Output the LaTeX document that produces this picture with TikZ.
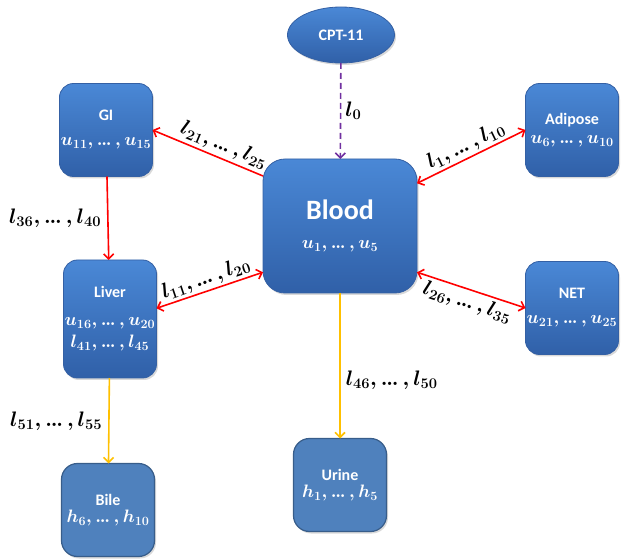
\RequirePackage{fix-cm}
\documentclass[tikz,border=0pt]{standalone}
\usepackage{amsmath}
\usepackage{fontspec}
\setsansfont{Carlito}
\usetikzlibrary{arrows.meta,shapes.geometric,shadows}

\definecolor{boxtop}{RGB}{74,136,214}
\definecolor{boxbot}{RGB}{48,96,168}
\definecolor{boxedge}{RGB}{52,96,164}
\definecolor{flatfill}{RGB}{79,129,189}
\definecolor{flatedge}{RGB}{56,93,138}
\definecolor{flowred}{RGB}{255,0,0}
\definecolor{flowgold}{RGB}{255,192,0}
\definecolor{flowpurple}{RGB}{112,48,160}

% tight ellipsis and bold sequence, e.g. u_1,...,u_5
\newcommand{\tdots}{\mathinner{.\kern-1.2pt.\kern-1.2pt.}}
\newcommand{\seqv}[3]{{\boldmath$#1_{#2},\tdots,#1_{#3}$}}
\newcommand{\boxmath}[3]{{\fontsize{18}{20}\selectfont\seqv{#1}{#2}{#3}}}

\tikzset{
  organ/.style={draw=boxedge, line width=0.8pt, rounded corners=14pt,
    top color=boxtop, bottom color=boxbot, text=white, align=center,
    inner sep=0pt, outer sep=0pt, minimum width=93pt, minimum height=93pt,
    font=\sffamily\bfseries\fontsize{16}{19}\selectfont,
    drop shadow={opacity=0.3, shadow xshift=1.5pt, shadow yshift=-2pt}},
  outlet/.style={organ, fill=flatfill, top color=flatfill, bottom color=flatfill,
    draw=flatedge, line width=1.2pt, rounded corners=16pt},
  dose/.style={ellipse, draw=boxedge, line width=0.8pt, top color=boxtop,
    bottom color=boxbot, text=white, inner sep=0pt, outer sep=0pt,
    minimum width=107pt, minimum height=56pt,
    font=\sffamily\bfseries\fontsize{16}{19}\selectfont,
    drop shadow={opacity=0.3, shadow xshift=1.5pt, shadow yshift=-2pt}},
  flow/.style={line width=1.6pt, flowred},
  tip/.tip={Straight Barb[length=5pt, width=10pt]},
  lab/.style={text=black, inner sep=1pt, font=\fontsize{21}{24}\selectfont}
}

\begin{document}
\begin{tikzpicture}[x=1pt, y=-1pt]
    \useasboundingbox (0,0) rectangle (625,559);

    % --- Compartments ---
    \node[dose] (cpt) at (341,35) {CPT-11};
    \node[organ, minimum width=154pt, minimum height=134pt, rounded corners=22pt]
        (blood) at (340,226)
        {{\fontsize{28}{32}\selectfont Blood}\\[10pt]\boxmath{u}{1}{5}};
    \node[organ] (gi) at (106,130) {GI\\[6pt]\boxmath{u}{11}{15}};
    \node[organ] (adipose) at (572,130) {Adipose\\[0pt]\boxmath{u}{6}{10}};
    \node[organ, minimum height=118pt] (liver) at (110,319)
        {Liver\\[9pt]\boxmath{u}{16}{20}\\[3pt]\boxmath{l}{41}{45}};
    \node[organ] (net) at (572,308) {NET\\[6pt]\boxmath{u}{21}{25}};
    \node[outlet] (urine) at (340,485) {Urine\\[-2pt]\boxmath{h}{1}{5}};
    \node[outlet] (bile) at (108,510) {Bile\\[-2pt]\boxmath{h}{6}{10}};

    % --- Dose into blood ---
    \draw[line width=1.6pt, flowpurple, dash pattern=on 6pt off 4pt, -tip]
        (cpt) -- (blood) node[lab, midway, right=3pt] {{\boldmath$l_0$}};

    % --- Exchange with blood (red) ---
    \draw[flow, -tip] (blood.147.5) -- (gi.east)
        node[lab, pos=0.4, above=2pt, sloped] {\seqv{l}{21}{25}};
    \draw[flow, tip-tip] (liver.13) -- (blood.211)
        node[lab, midway, above=1pt, sloped] {\seqv{l}{11}{20}};
    \draw[flow, tip-tip] (blood.29) -- (adipose.west)
        node[lab, midway, above=1pt, sloped] {\seqv{l}{1}{10}};
    \draw[flow, tip-tip] (blood.-31) -- (net.west)
        node[lab, midway, below=2pt, sloped] {\seqv{l}{26}{35}};
    \draw[flow, -tip] (gi) -- (liver)
        node[lab, midway, left=5pt] {\seqv{l}{36}{40}};

    % --- Elimination (gold) ---
    \draw[line width=1.6pt, flowgold, -tip] (blood) -- (urine)
        node[lab, pos=0.6, right=4pt] {\seqv{l}{46}{50}};
    \draw[line width=1.6pt, flowgold, -tip] (liver) -- (bile)
        node[lab, midway, left=5pt] {\seqv{l}{51}{55}};

\end{tikzpicture}
\end{document}
